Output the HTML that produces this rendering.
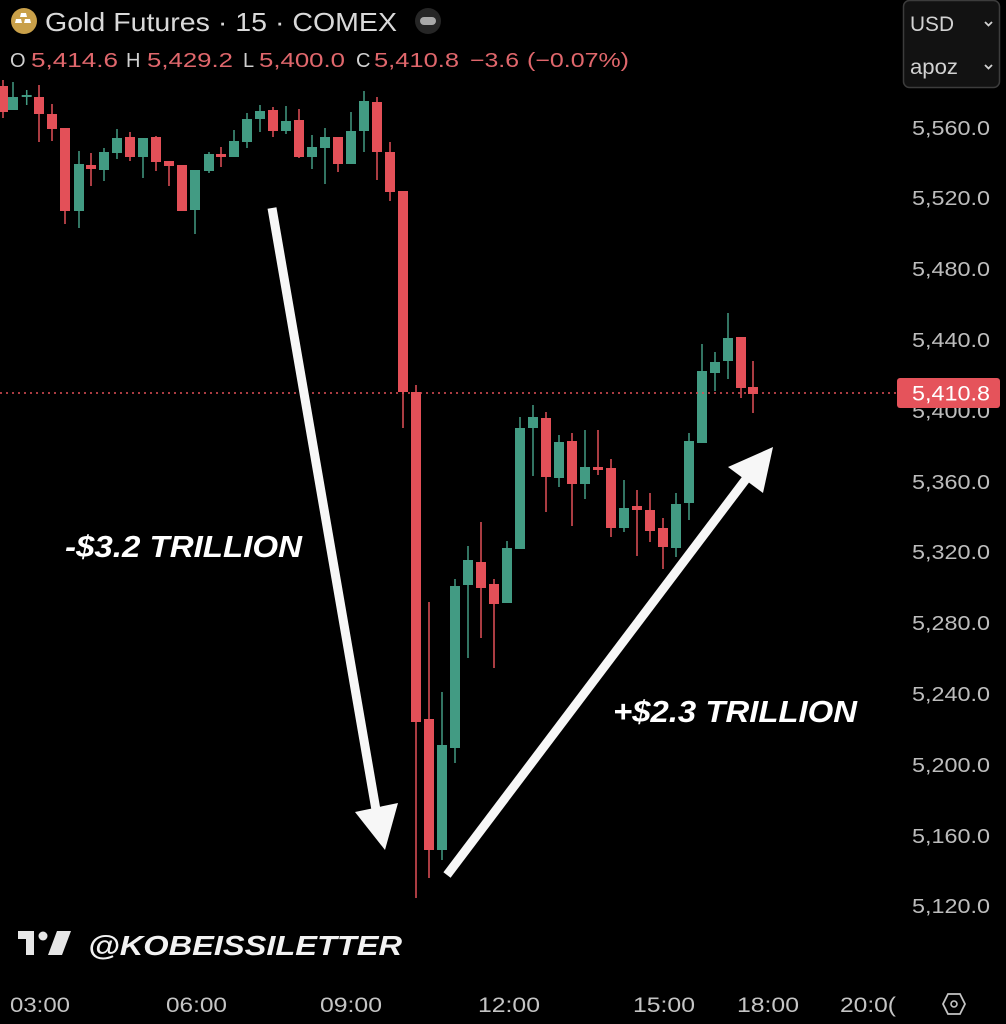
<!DOCTYPE html>
<html><head><meta charset="utf-8"><style>
html,body{margin:0;padding:0;background:#000;}
svg{display:block;}
text{font-family:"Liberation Sans",sans-serif;}
</style></head><body>
<svg width="1006" height="1024" viewBox="0 0 1006 1024" xmlns="http://www.w3.org/2000/svg">
<rect width="1006" height="1024" fill="#000"/>

<!-- header -->
<circle cx="24" cy="21" r="13" fill="#c9a049"/>
<path d="M21 13h5l1 4h-7z M16 19h5l1 4h-7z M25 19h5l1 4h-7z" fill="#fff"/>
<text x="45" y="31" font-size="26" fill="#d9d9d9" textLength="352" lengthAdjust="spacingAndGlyphs">Gold Futures · 15 · COMEX</text>
<circle cx="428" cy="21" r="13" fill="#262626"/>
<rect x="420" y="17" width="16" height="8" rx="4" fill="#a8a8a8"/>

<g font-size="20">
<text x="10" y="67" fill="#d0d0d0">O</text>
<text x="31" y="67" fill="#e0676c" textLength="87" lengthAdjust="spacingAndGlyphs">5,414.6</text>
<text x="126" y="67" fill="#d0d0d0">H</text>
<text x="147" y="67" fill="#e0676c" textLength="86" lengthAdjust="spacingAndGlyphs">5,429.2</text>
<text x="243" y="67" fill="#d0d0d0">L</text>
<text x="259" y="67" fill="#e0676c" textLength="86" lengthAdjust="spacingAndGlyphs">5,400.0</text>
<text x="356" y="67" fill="#d0d0d0">C</text>
<text x="374" y="67" fill="#e0676c" textLength="85" lengthAdjust="spacingAndGlyphs">5,410.8</text>
<text x="470" y="67" fill="#e0676c" textLength="49" lengthAdjust="spacingAndGlyphs">−3.6</text>
<text x="527" y="67" fill="#e0676c" textLength="102" lengthAdjust="spacingAndGlyphs">(−0.07%)</text>
</g>

<!-- USD box -->
<rect x="903.5" y="0.5" width="96" height="87" rx="6" fill="#121212" stroke="#3c3c3c" stroke-width="1.5"/>
<text x="910" y="31" font-size="21" fill="#d2d2d2" textLength="44" lengthAdjust="spacingAndGlyphs">USD</text>
<text x="910" y="74" font-size="21" fill="#d2d2d2" textLength="48" lengthAdjust="spacingAndGlyphs">apoz</text>
<path d="M985 22l3.5 3.5 3.5-3.5 M985 65l3.5 3.5 3.5-3.5" stroke="#d2d2d2" stroke-width="1.8" fill="none"/>

<!-- price axis -->
<g font-size="20" fill="#bdbdbd">
<text x="912" y="135" textLength="78" lengthAdjust="spacingAndGlyphs">5,560.0</text>
<text x="912" y="205" textLength="78" lengthAdjust="spacingAndGlyphs">5,520.0</text>
<text x="912" y="276" textLength="78" lengthAdjust="spacingAndGlyphs">5,480.0</text>
<text x="912" y="347" textLength="78" lengthAdjust="spacingAndGlyphs">5,440.0</text>
<text x="912" y="418" textLength="78" lengthAdjust="spacingAndGlyphs">5,400.0</text>
<text x="912" y="489" textLength="78" lengthAdjust="spacingAndGlyphs">5,360.0</text>
<text x="912" y="559" textLength="78" lengthAdjust="spacingAndGlyphs">5,320.0</text>
<text x="912" y="630" textLength="78" lengthAdjust="spacingAndGlyphs">5,280.0</text>
<text x="912" y="701" textLength="78" lengthAdjust="spacingAndGlyphs">5,240.0</text>
<text x="912" y="772" textLength="78" lengthAdjust="spacingAndGlyphs">5,200.0</text>
<text x="912" y="843" textLength="78" lengthAdjust="spacingAndGlyphs">5,160.0</text>
<text x="912" y="913" textLength="78" lengthAdjust="spacingAndGlyphs">5,120.0</text>
</g>

<!-- candles -->
<g id="c">
<g fill="#e35058">
<rect x="2.25" y="80" width="1.5" height="38"/><rect x="-2" y="86" width="10" height="26"/>
<rect x="38.25" y="85" width="1.5" height="57"/><rect x="34" y="97" width="10" height="17"/>
<rect x="51.25" y="104" width="1.5" height="37"/><rect x="47" y="114" width="10" height="15"/>
<rect x="64.25" y="128" width="1.5" height="96"/><rect x="60" y="128" width="10" height="83"/>
<rect x="90.25" y="153" width="1.5" height="33"/><rect x="86" y="165" width="10" height="4"/>
<rect x="129.25" y="132" width="1.5" height="29"/><rect x="125" y="137" width="10" height="20"/>
<rect x="155.25" y="136" width="1.5" height="35"/><rect x="151" y="137" width="10" height="25"/>
<rect x="168.25" y="161" width="1.5" height="25"/><rect x="164" y="161" width="10" height="5"/>
<rect x="181.25" y="165" width="1.5" height="46"/><rect x="177" y="165" width="10" height="46"/>
<rect x="220.25" y="147" width="1.5" height="20"/><rect x="216" y="154" width="10" height="3"/>
<rect x="272.25" y="107" width="1.5" height="30"/><rect x="268" y="110" width="10" height="21"/>
<rect x="298.25" y="109" width="1.5" height="49"/><rect x="294" y="120" width="10" height="37"/>
<rect x="337.25" y="137" width="1.5" height="35"/><rect x="333" y="137" width="10" height="27"/>
<rect x="376.25" y="97" width="1.5" height="83"/><rect x="372" y="102" width="10" height="50"/>
<rect x="389.25" y="142" width="1.5" height="59"/><rect x="385" y="152" width="10" height="40"/>
<rect x="402.25" y="191" width="1.5" height="237"/><rect x="398" y="191" width="10" height="201"/>
<rect x="415.25" y="385" width="1.5" height="513"/><rect x="411" y="392" width="10" height="330"/>
<rect x="428.25" y="602" width="1.5" height="276"/><rect x="424" y="719" width="10" height="131"/>
<rect x="480.25" y="522" width="1.5" height="116"/><rect x="476" y="562" width="10" height="26"/>
<rect x="493.25" y="579" width="1.5" height="89"/><rect x="489" y="584" width="10" height="20"/>
<rect x="545.25" y="412" width="1.5" height="100"/><rect x="541" y="418" width="10" height="59"/>
<rect x="571.25" y="433" width="1.5" height="93"/><rect x="567" y="441" width="10" height="43"/>
<rect x="597.25" y="430" width="1.5" height="45"/><rect x="593" y="467" width="10" height="3"/>
<rect x="610.25" y="459" width="1.5" height="78"/><rect x="606" y="468" width="10" height="60"/>
<rect x="636.25" y="490" width="1.5" height="66"/><rect x="632" y="506" width="10" height="4"/>
<rect x="649.25" y="493" width="1.5" height="49"/><rect x="645" y="510" width="10" height="21"/>
<rect x="662.25" y="518" width="1.5" height="51"/><rect x="658" y="528" width="10" height="19"/>
<rect x="740.25" y="337" width="1.5" height="61"/><rect x="736" y="337" width="10" height="51"/>
<rect x="752.25" y="361" width="1.5" height="52"/><rect x="748" y="387" width="10" height="7"/>
</g>
<g fill="#429b83">
<rect x="12.25" y="82" width="1.5" height="28"/><rect x="8" y="97" width="10" height="13"/>
<rect x="25.95" y="90" width="1.5" height="15"/><rect x="21.7" y="95" width="10" height="2"/>
<rect x="78.25" y="151" width="1.5" height="77"/><rect x="74" y="164" width="10" height="47"/>
<rect x="103.25" y="148" width="1.5" height="33"/><rect x="99" y="152" width="10" height="18"/>
<rect x="116.25" y="129" width="1.5" height="30"/><rect x="112" y="138" width="10" height="15"/>
<rect x="142.25" y="138" width="1.5" height="40"/><rect x="138" y="138" width="10" height="19"/>
<rect x="194.25" y="170" width="1.5" height="64"/><rect x="190" y="170" width="10" height="40"/>
<rect x="208.25" y="152" width="1.5" height="21"/><rect x="204" y="154" width="10" height="17"/>
<rect x="233.25" y="130" width="1.5" height="27"/><rect x="229" y="141" width="10" height="16"/>
<rect x="246.25" y="113" width="1.5" height="35"/><rect x="242" y="119" width="10" height="23"/>
<rect x="259.25" y="105" width="1.5" height="27"/><rect x="255" y="111" width="10" height="8"/>
<rect x="285.25" y="106" width="1.5" height="28"/><rect x="281" y="121" width="10" height="10"/>
<rect x="311.25" y="135" width="1.5" height="34"/><rect x="307" y="147" width="10" height="10"/>
<rect x="324.25" y="128" width="1.5" height="56"/><rect x="320" y="137" width="10" height="11"/>
<rect x="350.25" y="112" width="1.5" height="52"/><rect x="346" y="131" width="10" height="33"/>
<rect x="363.25" y="91" width="1.5" height="61"/><rect x="359" y="101" width="10" height="30"/>
<rect x="441.25" y="692" width="1.5" height="168"/><rect x="437" y="745" width="10" height="105"/>
<rect x="454.25" y="579" width="1.5" height="184"/><rect x="450" y="586" width="10" height="162"/>
<rect x="467.25" y="546" width="1.5" height="112"/><rect x="463" y="560" width="10" height="25"/>
<rect x="506.25" y="541" width="1.5" height="62"/><rect x="502" y="548" width="10" height="55"/>
<rect x="519.25" y="417" width="1.5" height="132"/><rect x="515" y="428" width="10" height="121"/>
<rect x="532.25" y="405" width="1.5" height="71"/><rect x="528" y="417" width="10" height="11"/>
<rect x="558.25" y="435" width="1.5" height="52"/><rect x="554" y="442" width="10" height="36"/>
<rect x="584.25" y="430" width="1.5" height="69"/><rect x="580" y="467" width="10" height="17"/>
<rect x="623.25" y="480" width="1.5" height="52"/><rect x="619" y="508" width="10" height="20"/>
<rect x="675.25" y="493" width="1.5" height="64"/><rect x="671" y="504" width="10" height="44"/>
<rect x="688.25" y="433" width="1.5" height="87"/><rect x="684" y="441" width="10" height="62"/>
<rect x="701.25" y="344" width="1.5" height="99"/><rect x="697" y="371" width="10" height="72"/>
<rect x="714.25" y="352" width="1.5" height="39"/><rect x="710" y="362" width="10" height="11"/>
<rect x="727.25" y="313" width="1.5" height="66"/><rect x="723" y="338" width="10" height="23"/>
</g>
</g>

<!-- last price line & tag -->
<line x1="0" y1="393" x2="897" y2="393" stroke="#e35058" stroke-width="1.5" stroke-dasharray="2 4"/>
<rect x="897" y="378" width="103" height="30" rx="3" fill="#e5535b"/>
<text x="912" y="400.5" font-size="21" fill="#fff" textLength="78" lengthAdjust="spacingAndGlyphs">5,410.8</text>

<!-- arrows -->
<line x1="272" y1="208" x2="376" y2="810" stroke="#f7f7f7" stroke-width="9"/>
<polygon points="355,812 398,803 385,850" fill="#f7f7f7"/>
<line x1="447" y1="875" x2="746" y2="479" stroke="#f7f7f7" stroke-width="9"/>
<polygon points="728,467 773,447 763,493" fill="#f7f7f7"/>

<!-- annotations -->
<text x="65" y="557" font-size="31" font-weight="bold" font-style="italic" fill="#fff" textLength="237" lengthAdjust="spacingAndGlyphs">-$3.2 TRILLION</text>
<text x="613" y="722" font-size="31" font-weight="bold" font-style="italic" fill="#fff" textLength="244" lengthAdjust="spacingAndGlyphs">+$2.3 TRILLION</text>

<!-- watermark -->
<g fill="#e6e6e6">
<rect x="18" y="931" width="16" height="8"/>
<rect x="26" y="931" width="8" height="24"/>
<circle cx="43" cy="936" r="4.5"/>
<polygon points="57,931 71,931 62,955 48,955"/>
</g>
<text x="88" y="955" font-size="28" font-weight="bold" font-style="italic" fill="#f2f2f2" textLength="314" lengthAdjust="spacingAndGlyphs">@KOBEISSILETTER</text>

<!-- time axis -->
<g font-size="21" fill="#c4c4c4">
<text x="10" y="1012" textLength="60" lengthAdjust="spacingAndGlyphs">03:00</text>
<text x="166" y="1012" textLength="61" lengthAdjust="spacingAndGlyphs">06:00</text>
<text x="320" y="1012" textLength="62" lengthAdjust="spacingAndGlyphs">09:00</text>
<text x="478" y="1012" textLength="62" lengthAdjust="spacingAndGlyphs">12:00</text>
<text x="633" y="1012" textLength="62" lengthAdjust="spacingAndGlyphs">15:00</text>
<text x="737" y="1012" textLength="62" lengthAdjust="spacingAndGlyphs">18:00</text>
<text x="840" y="1012" textLength="56" lengthAdjust="spacingAndGlyphs">20:0(</text>
</g>
<polygon points="948,994 960,994 965,1004 960,1014 948,1014 943,1004" fill="none" stroke="#c4c4c4" stroke-width="1.8"/>
<circle cx="954" cy="1004" r="3" fill="none" stroke="#c4c4c4" stroke-width="1.6"/>
</svg>
</body></html>
